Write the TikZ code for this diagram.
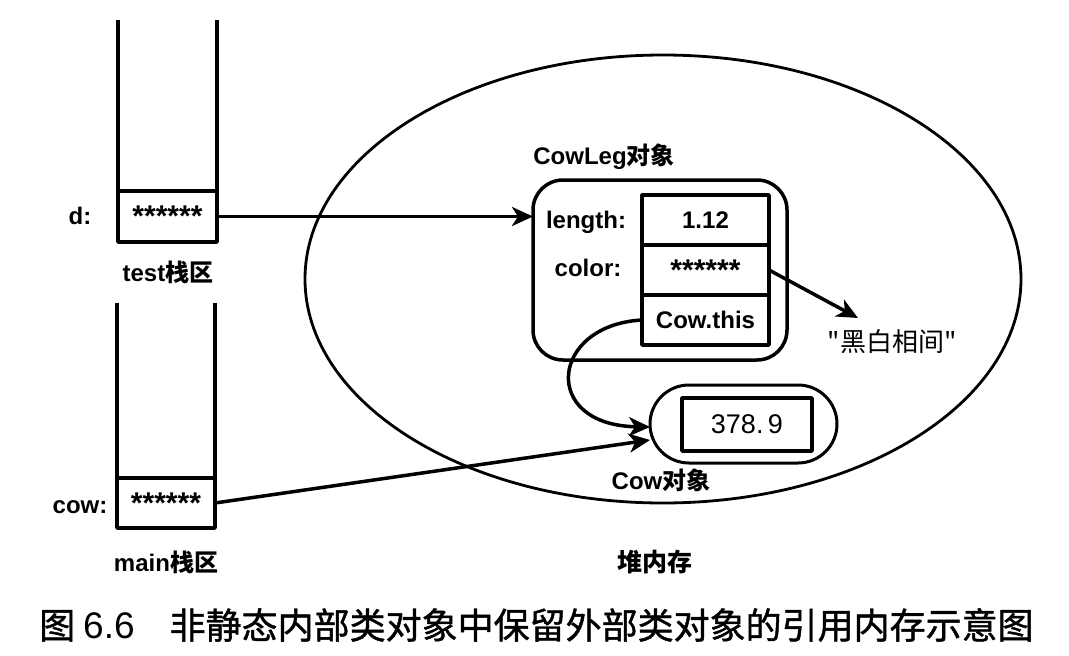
\documentclass[tikz,border=0pt]{standalone}
\usepackage{fontspec}
\setmainfont{Liberation Sans}
\newfontfamily\cjk{Noto Sans CJK SC}
\newfontfamily\capcjk{Noto Sans CJK SC}[FakeBold=1.2]
\usetikzlibrary{shapes.geometric,arrows.meta}
\newcommand{\starrow}{\raisebox{-0.3em}{\fontsize{30}{30}\selectfont\bfseries ******}}
\begin{document}
\begin{tikzpicture}[x=1pt,y=-1pt,line join=round,
  wall/.style={line width=3.5pt},
  cellbox/.style={draw,line width=3.5pt,inner sep=0pt,outer sep=0pt},
  lab/.style={inner sep=0pt,font=\fontsize{24}{28}\selectfont\bfseries},
  cjklab/.style={inner sep=0pt,font=\fontsize{25}{28}\selectfont\cjk\bfseries},
  arr/.style={line width=3.5pt,-{Stealth[length=21pt,width=19pt,inset=6pt]}}]
\useasboundingbox (0,0) rectangle (1069,656);

% heap ellipse
\node[draw,ellipse,line width=2.8pt,minimum width=716pt,minimum height=448pt,inner sep=0pt] (heap) at (663,279) {};
\node[cjklab] (heaplab) at (655,562) {堆内存};

% test stack
\node[cellbox,minimum width=99pt,minimum height=51pt] (dcell) at (167.5,216.5) {\starrow};
\coordinate (dtl) at (118,20);
\coordinate (dtr) at (217,20);
\draw[wall] (dtl) -- (dcell.north west);
\draw[wall] (dtr) -- (dcell.north east);
\node[lab] (dlab) at (80,216) {d:};
\node[lab] (testlab) at (168,272) {test{\cjk 栈区}};

% main stack
\node[cellbox,minimum width=98pt,minimum height=50pt] (cowcell) at (166,503) {\starrow};
\coordinate (mtl) at (117,303);
\coordinate (mtr) at (215,303);
\draw[wall] (mtl) -- (cowcell.north west);
\draw[wall] (mtr) -- (cowcell.north east);
\node[lab] (cowlab) at (80,507) {cow:};
\node[lab] (mainlab) at (166,562) {main{\cjk 栈区}};

% CowLeg object
\node[draw,line width=3.5pt,rounded corners=30pt,minimum width=254pt,minimum height=180pt,inner sep=0pt,outer sep=0pt] (leg) at (660,270) {};
\node[lab] (leglab) at (604,157) {CowLeg{\cjk 对象}};
\node[cellbox,minimum width=127pt,minimum height=50pt,font=\fontsize{24}{28}\selectfont\bfseries] (lencell) at (705.5,220) {1.12};
\node[cellbox,minimum width=127pt,minimum height=50pt] (colcell) at (705.5,270) {\starrow};
\node[cellbox,minimum width=127pt,minimum height=50pt,font=\fontsize{24}{28}\selectfont\bfseries] (thiscell) at (705.5,320) {Cow.this};
\node[lab] (lenlab) at (586,222) {length:};
\node[lab] (collab) at (588,268) {color:};

% Cow object
\node[draw,line width=3pt,rounded corners=39pt,minimum width=187pt,minimum height=78pt,inner sep=0pt,outer sep=0pt] (cowbox) at (743.5,424) {};
\node[cellbox,minimum width=130pt,minimum height=53pt,font=\fontsize{27}{30}\selectfont] (valcell) at (747,424.5) {378.\,9};
\node[lab] (cowobjlab) at (661,480) {Cow{\cjk 对象}};

% string
\node[inner sep=0pt,font=\fontsize{26}{30}\selectfont\cjk] (strlab) at (892,342) {"黑白相间"};
\coordinate (strtip) at (858,318);

% arrows
\draw[arr] (dcell.east) -- (leg.west |- dcell.east);
\draw[arr] (colcell.east) -- (strtip);
\draw[arr] (thiscell.west) .. controls (550,325) and (540,425) .. ([yshift=-3pt]cowbox.west);
\draw[arr] (cowcell.east) -- ([yshift=-16pt]cowbox.west);

% caption
\node[anchor=west,inner sep=0pt,font=\fontsize{36}{40}\selectfont] (cap) at (39,625) {{\capcjk 图}\hspace{8pt}{\fontsize{37}{40}\selectfont 6.6}\hspace{35pt}{\capcjk 非静态内部类对象中保留外部类对象的引用内存示意图}};
\end{tikzpicture}
\end{document}
